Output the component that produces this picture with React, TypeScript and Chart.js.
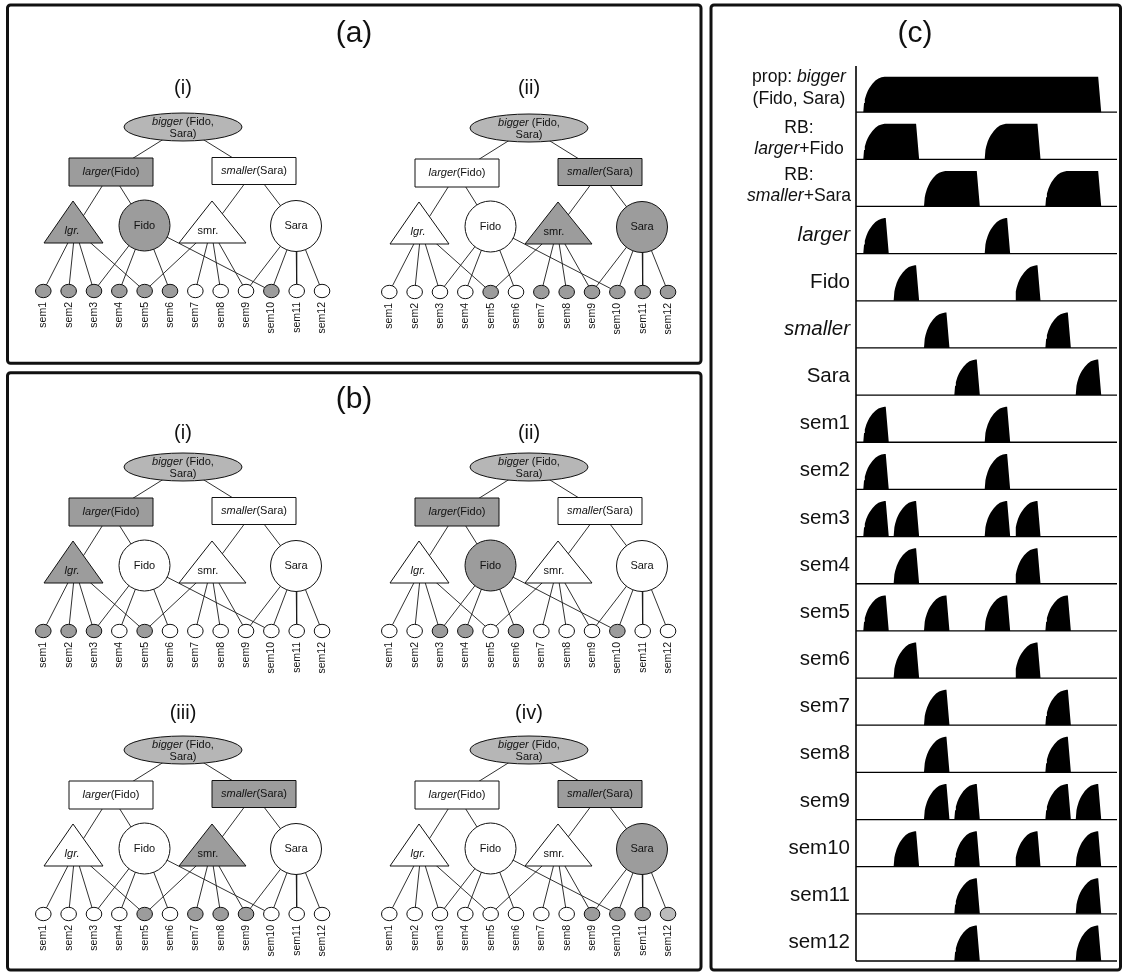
import React, { useEffect, useRef } from 'react';
import { Chart, registerables } from 'chart.js';

Chart.register(...registerables);

const FONT = '"Liberation Sans", Arial, Helvetica, sans-serif';

type Seg = { t: string; i?: boolean };

// ---------------- Panels (a)/(b): network snapshots ----------------
const PANEL_TITLES = ['(a)', '(b)', '(c)'];
const TREE_TITLES = ['(i)', '(ii)', '(i)', '(ii)', '(iii)', '(iv)'];

// node texts: P unit, two RBs, predicate / object units
const NODE_TEXT: Seg[][][] = [
  [[{ t: 'bigger', i: true }, { t: ' (Fido,' }], [{ t: 'Sara)' }]],
  [[{ t: 'larger', i: true }, { t: '(Fido)' }]],
  [[{ t: 'smaller', i: true }, { t: '(Sara)' }]],
  [[{ t: 'lgr.', i: true }]],
  [[{ t: 'Fido' }]],
  [[{ t: 'smr.' }]],
  [[{ t: 'Sara' }]],
];
const SEM_LABELS = ['sem1', 'sem2', 'sem3', 'sem4', 'sem5', 'sem6', 'sem7', 'sem8', 'sem9', 'sem10', 'sem11', 'sem12'];

// connections [parent, child]; semantic unit k is node 7+k
const TREE_EDGES: [number, number][] = [
  [0, 1], [0, 2], [1, 3], [1, 4], [2, 5], [2, 6],
  [3, 7], [3, 8], [3, 9], [3, 11],
  [4, 9], [4, 10], [4, 12], [4, 16],
  [5, 11], [5, 13], [5, 14], [5, 15],
  [6, 15], [6, 16], [6, 17], [6, 18],
];

// activation of each node per snapshot (P, RB1, RB2, lgr, Fido, smr, Sara, sem1..sem12)
const TREE_ACTIVE: number[][] = [
  [1, 1, 0, 1, 1, 0, 0, 1, 1, 1, 1, 1, 1, 0, 0, 0, 1, 0, 0],
  [1, 0, 1, 0, 0, 1, 1, 0, 0, 0, 0, 1, 0, 1, 1, 1, 1, 1, 1],
  [1, 1, 0, 1, 0, 0, 0, 1, 1, 1, 0, 1, 0, 0, 0, 0, 0, 0, 0],
  [1, 1, 0, 0, 1, 0, 0, 0, 0, 1, 1, 0, 1, 0, 0, 0, 1, 0, 0],
  [1, 0, 1, 0, 0, 1, 0, 0, 0, 0, 0, 1, 0, 1, 1, 1, 0, 0, 0],
  [1, 0, 1, 0, 0, 0, 1, 0, 0, 0, 0, 0, 0, 0, 0, 1, 1, 1, 0.6],
];

// ---------------- Panel (c): activation time course ----------------
const ROW_LABELS: Seg[][][] = [
  [[{ t: 'prop: ' }, { t: 'bigger', i: true }], [{ t: '(Fido, Sara)' }]],
  [[{ t: 'RB:' }], [{ t: 'larger', i: true }, { t: '+Fido' }]],
  [[{ t: 'RB:' }], [{ t: 'smaller', i: true }, { t: '+Sara' }]],
  [[{ t: 'larger', i: true }]],
  [[{ t: 'Fido' }]],
  [[{ t: 'smaller', i: true }]],
  [[{ t: 'Sara' }]],
  ...SEM_LABELS.map((s) => [[{ t: s }]]),
];

// pulses per row: [start phase slot, number of slots]
const ROW_PULSES: [number, number][][] = [
  [[0, 8]],
  [[0, 2], [4, 2]],
  [[2, 2], [6, 2]],
  [[0, 1], [4, 1]],
  [[1, 1], [5, 1]],
  [[2, 1], [6, 1]],
  [[3, 1], [7, 1]],
  [[0, 1], [4, 1]],
  [[0, 1], [4, 1]],
  [[0, 1], [1, 1], [4, 1], [5, 1]],
  [[1, 1], [5, 1]],
  [[0, 1], [2, 1], [4, 1], [6, 1]],
  [[1, 1], [5, 1]],
  [[2, 1], [6, 1]],
  [[2, 1], [6, 1]],
  [[2, 1], [3, 1], [6, 1], [7, 1]],
  [[1, 1], [3, 1], [5, 1], [7, 1]],
  [[3, 1], [7, 1]],
  [[3, 1], [7, 1]],
];

// rise of one pulse (time units after onset, activation)
const RISE_T = [0, 0.25, 0.5, 1, 1.5, 2, 3, 4, 5, 6, 7, 7.4];
const RISE_V = [0, 0.26, 0.36, 0.5, 0.6, 0.68, 0.8, 0.89, 0.95, 0.98, 1, 1];
const FALL_T = 1.0;
const SLOT = 10;
const T_MIN = -2.4;
const T_MAX = 83.6;
const PEAK = 0.753;

// ---------------- layout ----------------
const W = 1122;
const H = 974;
const LEFT_W = 706;
const RIGHT_W = W - LEFT_W;
const TREE_POS: [number, number][] = [
  [183, 127], [529, 128], [183, 467], [529, 467], [183, 750], [529, 750],
];
const TREE_TITLE_GAP = [39, 40, 34, 34, 37, 37];
const SEM_X0 = -139.7;
const SEM_DX = 25.34;
const SEM_DY = 164;

function nodeAnchor(k: number): [number, number] {
  switch (k) {
    case 0: return [0, 0];
    case 1: return [-72, 45];
    case 2: return [71, 44];
    case 3: return [-108, 102];
    case 4: return [-38.5, 98.5];
    case 5: return [28, 102];
    case 6: return [113, 99];
    default: return [SEM_X0 + SEM_DX * (k - 7), SEM_DY];
  }
}

function drawRich(ctx: CanvasRenderingContext2D, segs: Seg[], x: number, y: number, size: number, align: 'left' | 'center' | 'right') {
  const fonts = segs.map((s) => `${s.i ? 'italic ' : ''}${size}px ${FONT}`);
  const widths = segs.map((s, k) => {
    ctx.font = fonts[k];
    return ctx.measureText(s.t).width;
  });
  const total = widths.reduce((a, b) => a + b, 0);
  let sx = align === 'right' ? x - total : align === 'center' ? x - total / 2 : x;
  ctx.textAlign = 'left';
  ctx.textBaseline = 'middle';
  segs.forEach((s, k) => {
    ctx.font = fonts[k];
    ctx.fillText(s.t, sx, y);
    sx += widths[k];
  });
}

function fillFor(k: number, a: number): string {
  if (a >= 1) return k === 0 ? '#b6b6b6' : '#9c9c9c';
  if (a > 0) return '#bcbcbc';
  return '#ffffff';
}

function boxPath(ctx: CanvasRenderingContext2D, x0: number, y0: number, x1: number, y1: number) {
  ctx.beginPath();
  const anyCtx = ctx as any;
  if (anyCtx.roundRect) anyCtx.roundRect(x0, y0, x1 - x0, y1 - y0, 3);
  else ctx.rect(x0, y0, x1 - x0, y1 - y0);
  ctx.stroke();
}

const treePlugin = {
  id: 'treePlugin',
  afterDatasetsDraw(chart: any) {
    const ctx: CanvasRenderingContext2D = chart.ctx;
    const X = (v: number) => chart.scales.x.getPixelForValue(v);
    const Y = (v: number) => chart.scales.y.getPixelForValue(v);
    ctx.save();
    ctx.strokeStyle = '#111';
    ctx.lineWidth = 3;
    boxPath(ctx, X(7.5), Y(5), X(701), Y(363.3));
    boxPath(ctx, X(7.5), Y(372.8), X(701), Y(970));
    ctx.fillStyle = '#111';
    ctx.textAlign = 'center';
    ctx.textBaseline = 'middle';
    ctx.font = `30px ${FONT}`;
    ctx.fillText(PANEL_TITLES[0], X(354), Y(34));
    ctx.fillText(PANEL_TITLES[1], X(354), Y(400));

    TREE_POS.forEach(([cx, cy], ti) => {
      const act = TREE_ACTIVE[ti];
      ctx.fillStyle = '#111';
      ctx.font = `20px ${FONT}`;
      ctx.textAlign = 'center';
      ctx.textBaseline = 'middle';
      ctx.fillText(TREE_TITLES[ti], X(cx), Y(cy - TREE_TITLE_GAP[ti]));
      ctx.lineWidth = 1;
      ctx.strokeStyle = '#111';
      ctx.beginPath();
      ctx.ellipse(X(cx), Y(cy), 59, 14, 0, 0, Math.PI * 2);
      ctx.fillStyle = fillFor(0, act[0]);
      ctx.fill();
      ctx.stroke();
      const rects: [number, number, number, number][] = [[-72, 45, 84, 28], [71, 44, 84, 27]];
      rects.forEach(([dx, dy, w, h], r) => {
        ctx.beginPath();
        ctx.rect(X(cx + dx) - w / 2, Y(cy + dy) - h / 2, w, h);
        ctx.fillStyle = fillFor(1 + r, act[1 + r]);
        ctx.fill();
        ctx.stroke();
      });
      const tris: [number, number, number, number][] = [[-110, -139, -80, 3], [29, -4, 63, 5]];
      tris.forEach(([ax, bl, br, k]) => {
        ctx.beginPath();
        ctx.moveTo(X(cx + ax), Y(cy + 74));
        ctx.lineTo(X(cx + br), Y(cy + 116));
        ctx.lineTo(X(cx + bl), Y(cy + 116));
        ctx.closePath();
        ctx.fillStyle = fillFor(k, act[k]);
        ctx.fill();
        ctx.stroke();
      });
      [4, 6].forEach((k) => {
        const [dx, dy] = nodeAnchor(k);
        ctx.beginPath();
        ctx.arc(X(cx + dx), Y(cy + dy), 25.5, 0, Math.PI * 2);
        ctx.fillStyle = fillFor(k, act[k]);
        ctx.fill();
        ctx.stroke();
      });
      ctx.fillStyle = '#111';
      drawRich(ctx, NODE_TEXT[0][0], X(cx), Y(cy - 5.3), 11, 'center');
      drawRich(ctx, NODE_TEXT[0][1], X(cx), Y(cy + 6.5), 11, 'center');
      drawRich(ctx, NODE_TEXT[1][0], X(cx - 72), Y(cy + 45.3), 11, 'center');
      drawRich(ctx, NODE_TEXT[2][0], X(cx + 71), Y(cy + 43.5), 11, 'center');
      drawRich(ctx, NODE_TEXT[3][0], X(cx - 111), Y(cy + 104), 11, 'center');
      drawRich(ctx, NODE_TEXT[4][0], X(cx - 38.5), Y(cy + 98.5), 11, 'center');
      drawRich(ctx, NODE_TEXT[5][0], X(cx + 25), Y(cy + 104), 11, 'center');
      drawRich(ctx, NODE_TEXT[6][0], X(cx + 113), Y(cy + 99), 11, 'center');
      SEM_LABELS.forEach((lab, s) => {
        const k = 7 + s;
        const [dx, dy] = nodeAnchor(k);
        ctx.beginPath();
        ctx.ellipse(X(cx + dx), Y(cy + dy), 7.8, 6.7, 0, 0, Math.PI * 2);
        ctx.fillStyle = fillFor(k, act[k]);
        ctx.fill();
        ctx.strokeStyle = '#111';
        ctx.stroke();
        ctx.save();
        ctx.translate(X(cx + dx), Y(cy + 175));
        ctx.rotate(-Math.PI / 2);
        ctx.fillStyle = '#111';
        ctx.font = `10.5px ${FONT}`;
        ctx.textAlign = 'right';
        ctx.textBaseline = 'middle';
        ctx.fillText(lab, 0, 0);
        ctx.restore();
      });
    });
    ctx.restore();
  },
};

function leftConfig(): any {
  const datasets: any[] = [];
  TREE_POS.forEach(([cx, cy]) => {
    TREE_EDGES.forEach(([a, b]) => {
      const [ax, ay] = nodeAnchor(a);
      const [bx, by] = nodeAnchor(b);
      datasets.push({
        data: [{ x: cx + ax, y: cy + ay }, { x: cx + bx, y: cy + by }],
        showLine: true,
        borderColor: '#1a1a1a',
        borderWidth: 0.9,
        pointRadius: 0,
        fill: false,
      });
    });
  });
  return {
    type: 'scatter',
    data: { datasets },
    options: {
      animation: false,
      responsive: false,
      maintainAspectRatio: false,
      devicePixelRatio: 1,
      events: [],
      layout: { padding: 0 },
      plugins: { legend: { display: false }, tooltip: { enabled: false } },
      scales: {
        x: { type: 'linear', min: 0, max: LEFT_W, display: false },
        y: { type: 'linear', min: 0, max: H, reverse: true, display: false },
      },
    },
    plugins: [treePlugin],
  };
}

const NROWS = ROW_LABELS.length;

function rowData(i: number) {
  const base = NROWS - 1 - i;
  const pts: { x: number; y: number }[] = [{ x: T_MIN, y: base }];
  ROW_PULSES[i].forEach(([s, n]) => {
    const t0 = s * SLOT;
    RISE_T.forEach((t, j) => pts.push({ x: t0 + t, y: base + PEAK * RISE_V[j] }));
    const tEnd = t0 + (n - 1) * SLOT + RISE_T[RISE_T.length - 1];
    if (n > 1) pts.push({ x: tEnd, y: base + PEAK });
    pts.push({ x: tEnd + FALL_T, y: base });
  });
  pts.push({ x: T_MAX, y: base });
  return pts;
}

const tracePlugin = {
  id: 'tracePlugin',
  afterDatasetsDraw(chart: any) {
    const ctx: CanvasRenderingContext2D = chart.ctx;
    const area = chart.chartArea;
    const Y = (v: number) => chart.scales.y.getPixelForValue(v);
    ctx.save();
    ctx.strokeStyle = '#111';
    ctx.lineWidth = 3;
    boxPath(ctx, 5, 5, RIGHT_W - 1.5, 970);
    ctx.fillStyle = '#111';
    ctx.font = `30px ${FONT}`;
    ctx.textAlign = 'center';
    ctx.textBaseline = 'middle';
    ctx.fillText(PANEL_TITLES[2], 915 - LEFT_W, 34);
    ctx.strokeStyle = '#000';
    ctx.lineWidth = 1.3;
    for (let i = 0; i < NROWS; i++) {
      const y = Y(NROWS - 1 - i);
      ctx.beginPath();
      ctx.moveTo(area.left, y);
      ctx.lineTo(area.right, y);
      ctx.stroke();
    }
    ctx.lineWidth = 1.6;
    ctx.beginPath();
    ctx.moveTo(area.left, area.top + 1);
    ctx.lineTo(area.left, Y(0));
    ctx.stroke();
    ctx.fillStyle = '#111';
    ROW_LABELS.forEach((lines, i) => {
      const base = Y(NROWS - 1 - i);
      if (lines.length === 1) {
        drawRich(ctx, lines[0], area.left - 6, base - 18.6, 20.5, 'right');
      } else {
        const o1 = i === 0 ? -35 : -31;
        const o2 = i === 0 ? -13 : -10;
        drawRich(ctx, lines[0], area.left - 57, base + o1, 17.6, 'center');
        drawRich(ctx, lines[1], area.left - 57, base + o2, 17.6, 'center');
      }
    });
    ctx.restore();
  },
};

function rightConfig(): any {
  const datasets = ROW_LABELS.map((_, i) => ({
    data: rowData(i),
    borderWidth: 0,
    borderColor: 'rgba(0,0,0,0)',
    backgroundColor: '#000',
    pointRadius: 0,
    tension: 0,
    fill: { value: NROWS - 1 - i },
  }));
  return {
    type: 'line',
    data: { datasets },
    options: {
      animation: false,
      responsive: false,
      maintainAspectRatio: false,
      devicePixelRatio: 1,
      events: [],
      layout: { padding: { left: 856 - LEFT_W, right: W - 1117, top: 65, bottom: H - 961 } },
      plugins: { legend: { display: false }, tooltip: { enabled: false } },
      scales: {
        x: { type: 'linear', min: T_MIN, max: T_MAX, display: false },
        y: { type: 'linear', min: 0, max: NROWS, display: false },
      },
    },
    plugins: [tracePlugin],
  };
}

export default function App() {
  const leftRef = useRef<HTMLCanvasElement>(null);
  const rightRef = useRef<HTMLCanvasElement>(null);
  useEffect(() => {
    const c1 = new Chart(leftRef.current as HTMLCanvasElement, leftConfig());
    const c2 = new Chart(rightRef.current as HTMLCanvasElement, rightConfig());
    return () => {
      c1.destroy();
      c2.destroy();
    };
  }, []);
  return (
    <div style={{ position: 'absolute', left: 0, top: 0, width: W, height: H, background: '#fff' }}>
      <canvas ref={leftRef} width={LEFT_W} height={H} style={{ position: 'absolute', left: 0, top: 0, width: LEFT_W, height: H }} />
      <canvas ref={rightRef} width={RIGHT_W} height={H} style={{ position: 'absolute', left: LEFT_W, top: 0, width: RIGHT_W, height: H }} />
    </div>
  );
}
